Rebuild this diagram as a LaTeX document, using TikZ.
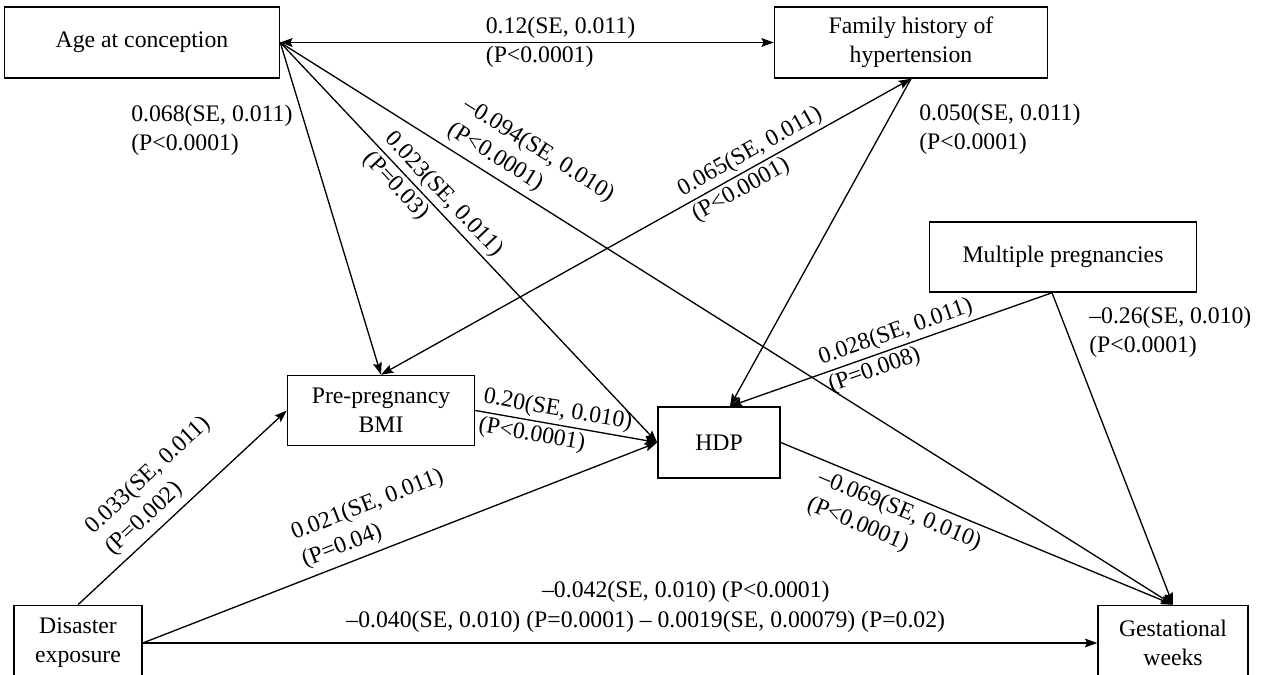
\documentclass[tikz,border=0pt]{standalone}
\usepackage{fontspec}
\setmainfont{Liberation Serif}
\usepackage{tikz}
\usetikzlibrary{arrows.meta}
\tikzstyle{var_box} = [rectangle, draw=black, line width=0.9pt, align=center, inner sep=2pt, minimum height=1.42cm, font=\fontsize{13.5}{16.5}\selectfont]
\tikzstyle{coef_lbl} = [align=left, inner sep=1.5pt, font=\fontsize{13.5}{16.5}\selectfont]

\begin{document}
\begin{tikzpicture}[x=0.02cm, y=-0.02cm, >={Stealth[length=7pt, width=5pt, inset=1.2pt]}, line width=0.75pt]
\useasboundingbox (0,0) rectangle (1275,675);
% variables
\node [var_box, minimum width=5.5cm] (age) at (142,42.5) {Age at conception};
\node [var_box, minimum width=5.46cm] (fam) at (911,42.5) {Family history of\\hypertension};
\node [var_box, minimum width=5.34cm, minimum height=1.4cm] (mult) at (1063,257) {Multiple pregnancies};
\node [var_box, minimum width=3.74cm, minimum height=1.4cm] (bmi) at (381,410.5) {Pre-pregnancy\\BMI};
\node [var_box, minimum width=2.44cm] (hdp) at (719,442.5) {HDP};
\node [var_box, minimum width=2.56cm, minimum height=1.5cm] (dis) at (78,643) {Disaster\\exposure};
\node [var_box, minimum width=3.0cm, minimum height=1.5cm] (gw) at (1173,643) {Gestational\\weeks};
\coordinate (hdptop) at ([xshift=0.22cm]hdp.north);
\coordinate (multbot) at ([xshift=-0.22cm]mult.south);

% paths
\draw [<->] (age.east) -- (fam.west)
	node [coef_lbl, pos=.41, anchor=west] (l_agefam) {0.12(SE, 0.011)\\(P<0.0001)};
\draw [->] (age.east) -- (bmi.north);
\draw [->] (age.east) -- (hdp.west)
	node [coef_lbl, sloped, pos=.405] (l_agehdp) {0.023(SE, 0.011)\\(P=0.03)};
\draw [->] (age.east) -- (gw.north)
	node [coef_lbl, sloped, pos=.262, above=2pt] (l_agegw) {--0.094(SE, 0.010)\\(P<0.0001)};
\draw [<->] (bmi.north) -- (fam.south)
	node [coef_lbl, sloped, pos=.71] (l_bmifam) {0.065(SE, 0.011)\\(P<0.0001)};
\draw [->] (fam.south) -- (hdptop);
\draw [->] (multbot) -- (hdptop)
	node [coef_lbl, sloped, pos=.47] (l_multhdp) {0.028(SE, 0.011)\\(P=0.008)};
\draw [->] (multbot) -- (gw.north);
\draw [->] (bmi.east) -- (hdp.west)
	node [coef_lbl, sloped, pos=.44] (l_bmihdp) {0.20(SE, 0.010)\\(P<0.0001)};
\draw [->] (dis.north) -- (bmi.west)
	node [coef_lbl, sloped, pos=.49, above=2pt] (l_disbmi) {0.033(SE, 0.011)\\(P=0.002)};
\draw [->] (dis.east) -- (hdp.west)
	node [coef_lbl, sloped, pos=.47, above=2pt] (l_dishdp) {0.021(SE, 0.011)\\(P=0.04)};
\draw [->] (hdp.east) -- (gw.north)
	node [coef_lbl, sloped, pos=.32, below=2pt] (l_hdpgw) {--0.069(SE, 0.010)\\(P<0.0001)};
\draw [->] (dis.east) -- (gw.west)
	node [coef_lbl, pos=.527, yshift=0.42cm] (l_disgw_b) {--0.040(SE, 0.010) (P=0.0001) -- 0.0019(SE, 0.00079) (P=0.02)}
	node [coef_lbl, pos=.569, yshift=1.02cm] (l_disgw_a) {--0.042(SE, 0.010) (P<0.0001)};

% plain labels
\node [coef_lbl, anchor=west] (l_agebmi) at (128,130) {0.068(SE, 0.011)\\(P<0.0001)};
\node [coef_lbl, anchor=west] (l_famhdp) at (916,129) {0.050(SE, 0.011)\\(P<0.0001)};
\node [coef_lbl, anchor=west] (l_multgw) at (1086,332) {--0.26(SE, 0.010)\\(P<0.0001)};
\end{tikzpicture}
\end{document}
